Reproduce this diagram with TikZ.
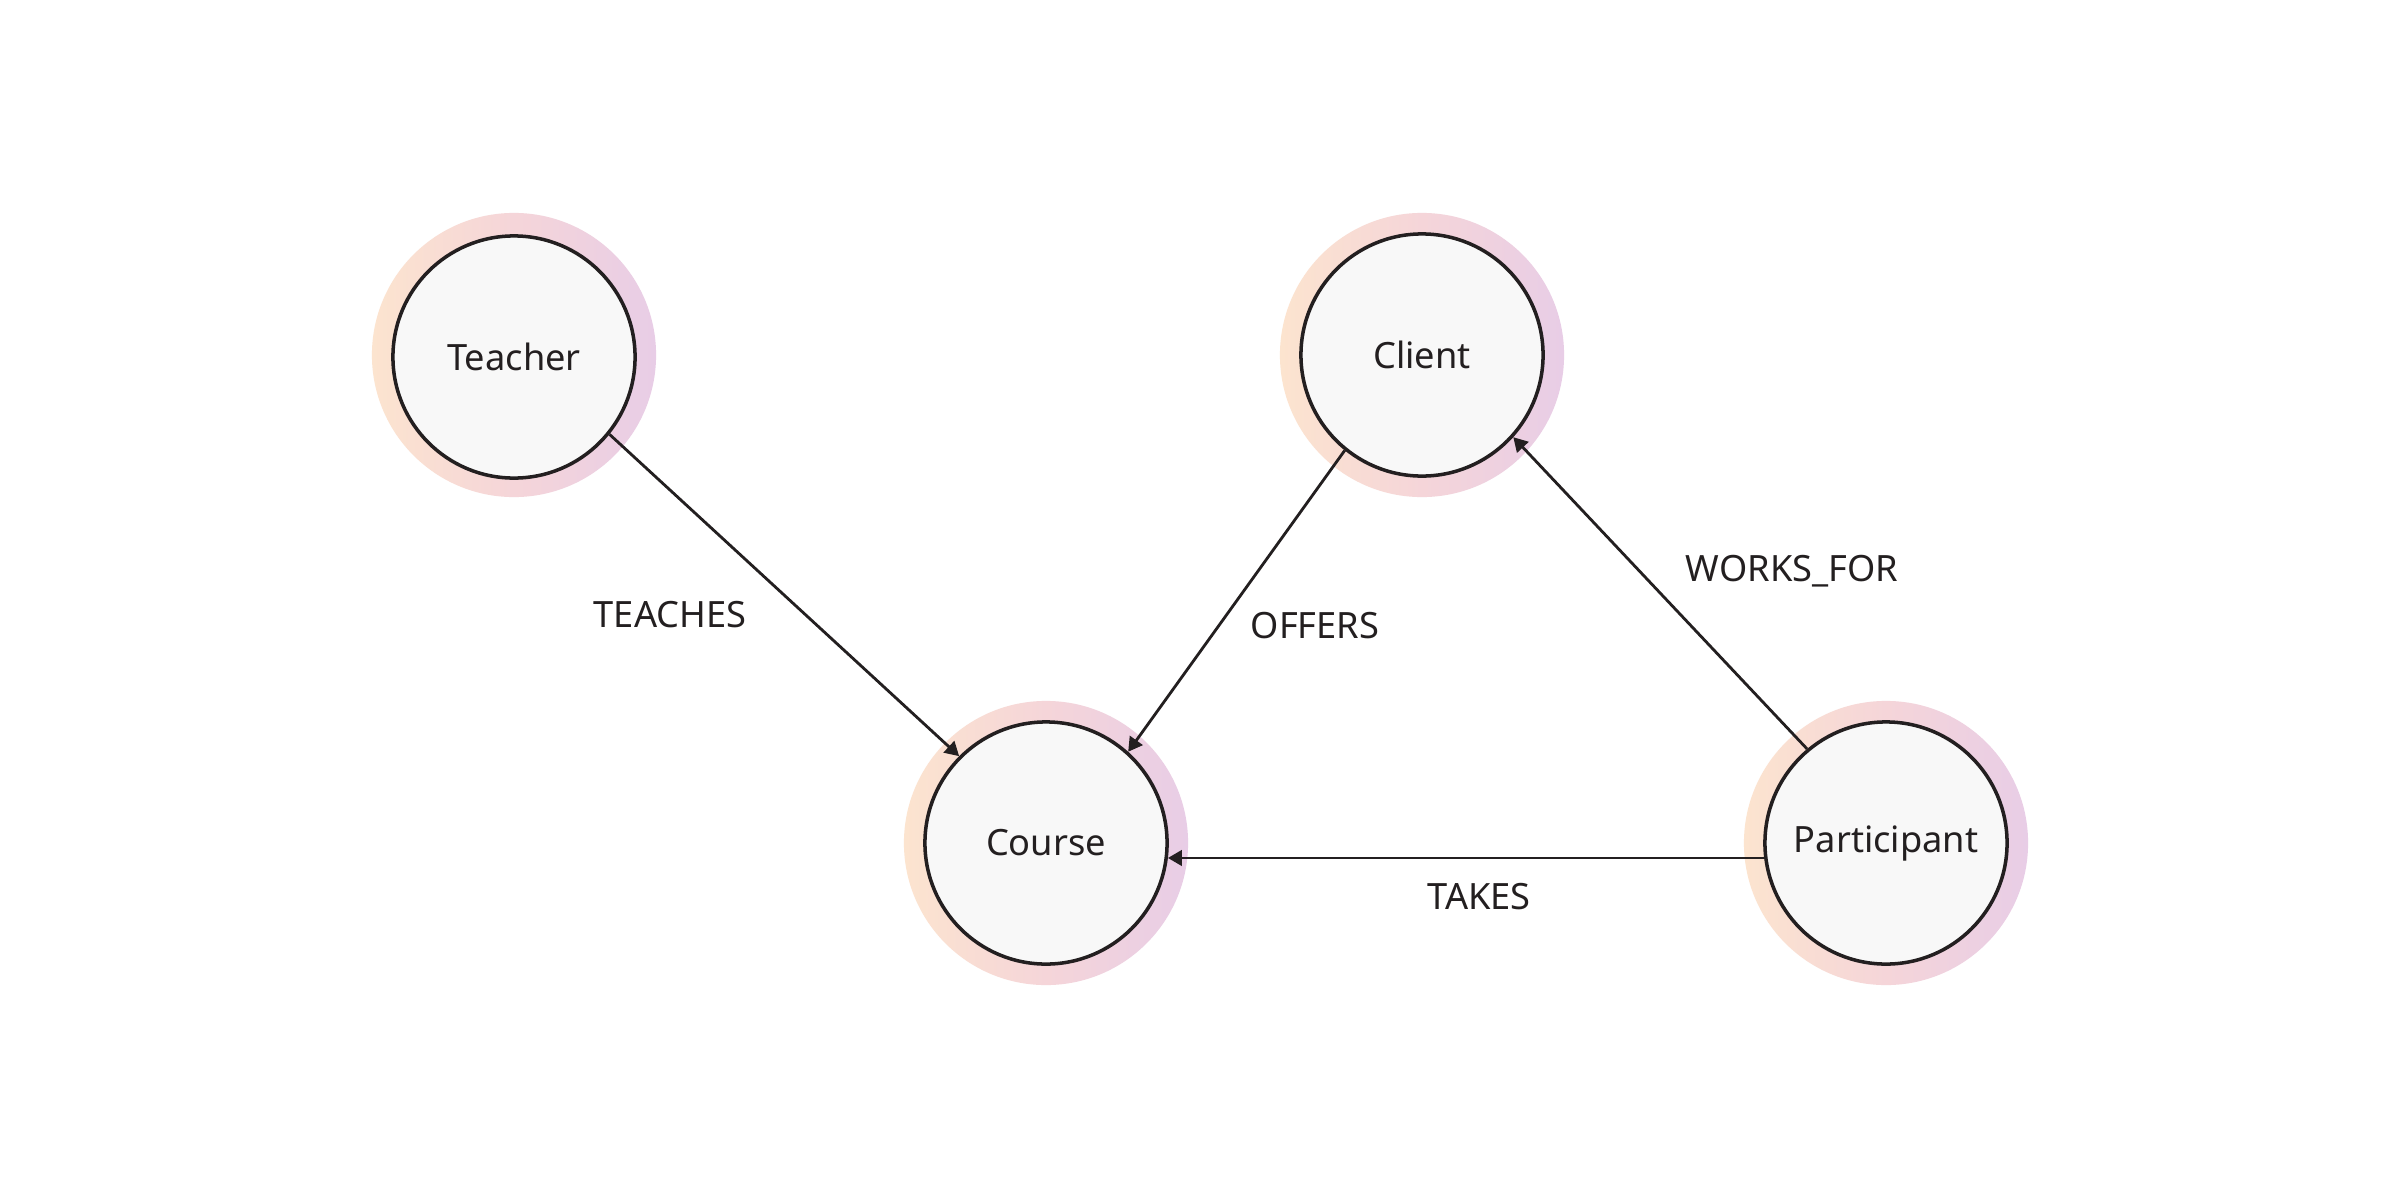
\documentclass[tikz,border=0pt]{standalone}
\usepackage{fontspec}
\setmainfont{Noto Sans}
\usetikzlibrary{arrows.meta}
\definecolor{ink}{HTML}{231F20}
\definecolor{nodefill}{HTML}{F8F8F8}
\definecolor{ringpeach}{HTML}{FCE4CF}
\definecolor{ringpink}{HTML}{F5D5D9}
\definecolor{ringlav}{HTML}{E8CDE6}
\tikzset{
  entity/.style={circle, draw=ink, line width=1pt, fill=nodefill, minimum size=2.42cm, inner sep=0pt, text=ink, font=\fontsize{10.3pt}{12pt}\selectfont},
  ring/.style={left color=ringpeach, right color=ringlav, middle color=ringpink},
  rel/.style={draw=ink, line width=0.8pt, -{Triangle[length=0.14cm, width=0.155cm]}},
  lbl/.style={text=ink, inner sep=0pt, font=\fontsize{10.3pt}{12pt}\selectfont}
}
\begin{document}
\begin{tikzpicture}[x=0.01cm, y=-0.01cm]
\useasboundingbox[fill=white] (0,0) rectangle (2400,1200);
% gradient rings
\shade[ring] (514,355) circle[radius=1.42cm];
\shade[ring] (1422,355) circle[radius=1.42cm];
\shade[ring] (1046,843) circle[radius=1.42cm];
\shade[ring] (1886,843) circle[radius=1.42cm];
% entities
\node[entity] (teacher) at (514,357) {Teacher};
\node[entity] (client) at (1422,355) {Client};
\node[entity] (course) at (1046,843) {Course};
\node[entity] (participant) at (1886,843) {Participant};
% relationships
\draw[rel] (teacher.-39.6) -- (course.135.3);
\draw[rel] (client.-129.3) -- (course.48.7);
\draw[rel] (participant.130.7) -- (client.-42.7);
\draw[rel] (participant.187) -- (course.-7);
% labels
\node[lbl] (lteaches) at (670,615) {TEACHES};
\node[lbl] (loffers) at (1315,626) {OFFERS};
\node[lbl] (lworks) at (1792,571) {WORKS\_FOR};
\node[lbl] (ltakes) at (1479,897) {TAKES};
\end{tikzpicture}
\end{document}
